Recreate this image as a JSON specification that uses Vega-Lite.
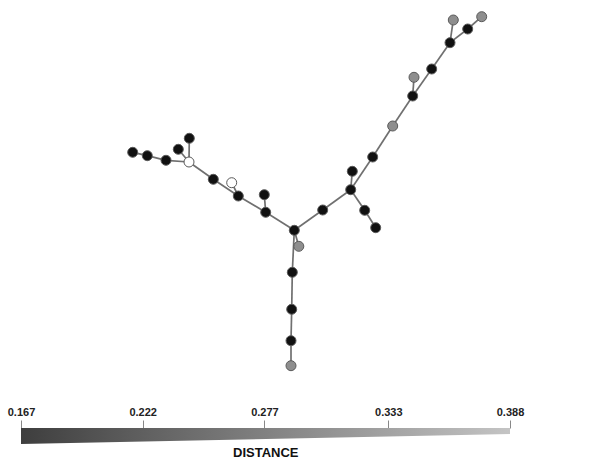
{
  "$schema": "https://vega.github.io/schema/vega-lite/v6.json",
  "padding": 0,
  "spacing": 21,
  "background": "white",
  "config": {"view": {"stroke": null}},
  "datasets": {
    "nodes": [
      {"id": "A", "x": 132.7, "y": 152.3, "kind": "black"},
      {"id": "B", "x": 147.3, "y": 155.7, "kind": "black"},
      {"id": "C", "x": 166, "y": 160.3, "kind": "black"},
      {"id": "D", "x": 189, "y": 162, "kind": "white"},
      {"id": "E", "x": 178.3, "y": 149.3, "kind": "black"},
      {"id": "F", "x": 189.3, "y": 138.3, "kind": "black"},
      {"id": "G", "x": 213.3, "y": 179.3, "kind": "black"},
      {"id": "H", "x": 231.7, "y": 182.7, "kind": "white"},
      {"id": "I", "x": 238.3, "y": 196, "kind": "black"},
      {"id": "J", "x": 264.3, "y": 194.7, "kind": "black"},
      {"id": "K", "x": 265.7, "y": 212.3, "kind": "black"},
      {"id": "L", "x": 294.3, "y": 230.3, "kind": "black"},
      {"id": "M", "x": 298.8, "y": 246.3, "kind": "gray"},
      {"id": "N", "x": 322.7, "y": 210, "kind": "black"},
      {"id": "O", "x": 350.7, "y": 189.7, "kind": "black"},
      {"id": "P", "x": 352.3, "y": 171.3, "kind": "black"},
      {"id": "Q", "x": 372.7, "y": 157, "kind": "black"},
      {"id": "R", "x": 364.7, "y": 210.3, "kind": "black"},
      {"id": "S", "x": 375.7, "y": 227.7, "kind": "black"},
      {"id": "U", "x": 392.7, "y": 126, "kind": "gray"},
      {"id": "V", "x": 412.7, "y": 96, "kind": "black"},
      {"id": "W", "x": 414, "y": 77.3, "kind": "gray"},
      {"id": "X", "x": 431.7, "y": 69, "kind": "black"},
      {"id": "Y", "x": 450, "y": 42.7, "kind": "black"},
      {"id": "Z", "x": 453.3, "y": 20, "kind": "gray"},
      {"id": "AA", "x": 467.7, "y": 29, "kind": "black"},
      {"id": "AB", "x": 481.7, "y": 16.7, "kind": "gray"},
      {"id": "AC", "x": 292.3, "y": 272.3, "kind": "black"},
      {"id": "AD", "x": 291.7, "y": 309.3, "kind": "black"},
      {"id": "AE", "x": 291, "y": 340.7, "kind": "black"},
      {"id": "AF", "x": 291, "y": 365.7, "kind": "gray"}
    ],
    "edges": [
      {"s": "A", "t": "B"}, {"s": "B", "t": "C"}, {"s": "C", "t": "D"},
      {"s": "D", "t": "E"}, {"s": "D", "t": "F"}, {"s": "D", "t": "G"},
      {"s": "G", "t": "I"}, {"s": "H", "t": "I"}, {"s": "I", "t": "K"},
      {"s": "K", "t": "J"}, {"s": "K", "t": "L"}, {"s": "L", "t": "M"},
      {"s": "L", "t": "N"}, {"s": "N", "t": "O"}, {"s": "O", "t": "P"},
      {"s": "O", "t": "Q"}, {"s": "O", "t": "R"}, {"s": "R", "t": "S"},
      {"s": "Q", "t": "U"}, {"s": "U", "t": "V"}, {"s": "V", "t": "W"},
      {"s": "V", "t": "X"}, {"s": "X", "t": "Y"}, {"s": "Y", "t": "Z"},
      {"s": "Y", "t": "AA"}, {"s": "AA", "t": "AB"}, {"s": "L", "t": "AC"},
      {"s": "AC", "t": "AD"}, {"s": "AD", "t": "AE"}, {"s": "AE", "t": "AF"}
    ],
    "legend": [
      {"d": 0.167, "top": 0, "bot": 16},
      {"d": 0.388, "top": 0, "bot": 6}
    ]
  },
  "vconcat": [
    {
      "width": 606,
      "height": 385,
      "layer": [
        {
          "data": {"name": "edges"},
          "transform": [
            {"lookup": "s", "from": {"data": {"name": "nodes"}, "key": "id", "fields": ["x", "y"]}, "as": ["sx", "sy"]},
            {"lookup": "t", "from": {"data": {"name": "nodes"}, "key": "id", "fields": ["x", "y"]}, "as": ["tx", "ty"]}
          ],
          "mark": {"type": "rule", "color": "#707070", "strokeWidth": 1.7},
          "encoding": {
            "x": {"field": "sx", "type": "quantitative", "scale": {"domain": [0, 606], "nice": false, "zero": false}, "axis": null},
            "y": {"field": "sy", "type": "quantitative", "scale": {"domain": [0, 385], "nice": false, "zero": false, "reverse": true}, "axis": null},
            "x2": {"field": "tx"},
            "y2": {"field": "ty"}
          }
        },
        {
          "data": {"name": "nodes"},
          "mark": {"type": "circle", "size": 100, "opacity": 1, "stroke": "#5a5a5a", "strokeWidth": 1},
          "encoding": {
            "x": {"field": "x", "type": "quantitative"},
            "y": {"field": "y", "type": "quantitative"},
            "color": {"field": "kind", "type": "nominal", "scale": {"domain": ["black", "gray", "white"], "range": ["#111111", "#8e8e8e", "#ffffff"]}, "legend": null}
          }
        }
      ]
    },
    {
      "width": 606,
      "height": 16,
      "title": {"text": "DISTANCE", "orient": "bottom", "anchor": "start", "offset": 3, "font": "Liberation Sans", "fontSize": 13, "fontWeight": "bold", "color": "#111", "dx": 233},
      "data": {"name": "legend"},
      "mark": {"type": "area", "fill": {"gradient": "linear", "x1": 0, "x2": 1, "y1": 0, "y2": 0, "stops": [{"offset": 0, "color": "#3e3e3e"}, {"offset": 1, "color": "#c4c4c4"}]}},
      "encoding": {
        "x": {
          "field": "d", "type": "quantitative",
          "scale": {"domain": [0.157509, 0.431386], "nice": false, "zero": false},
          "axis": {"orient": "top", "values": [0.167, 0.222, 0.277, 0.333, 0.388], "format": ".3f", "domain": false, "grid": false, "tickSize": 8, "tickColor": "#888", "labelFont": "Liberation Sans", "labelFontSize": 11, "labelFontWeight": "bold", "labelColor": "#222", "labelPadding": 3, "title": null}
        },
        "y": {"field": "top", "type": "quantitative", "scale": {"domain": [0, 16], "nice": false, "zero": false, "reverse": true}, "axis": null},
        "y2": {"field": "bot"}
      }
    }
  ]
}
